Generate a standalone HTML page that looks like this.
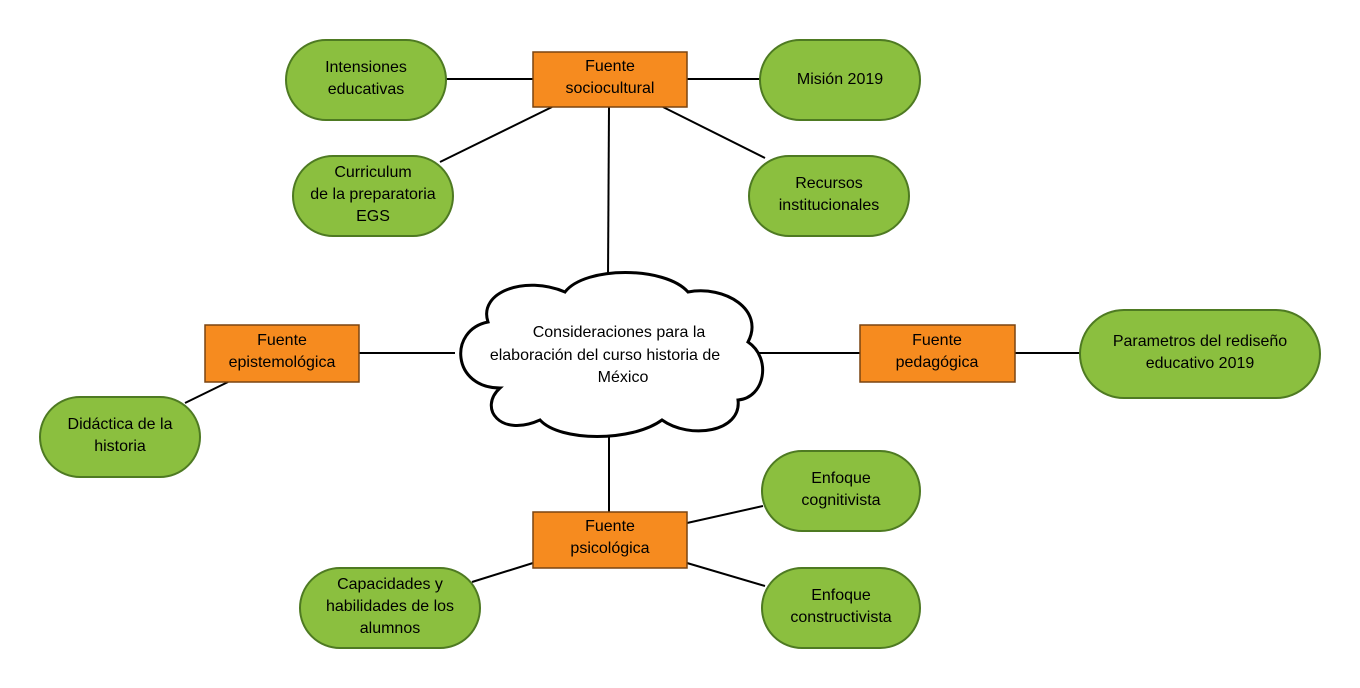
<!DOCTYPE html>
<html><head><meta charset="utf-8"><style>
html,body{margin:0;padding:0;background:#fff;}
svg{display:block;font-family:"Liberation Sans",sans-serif;}
text{font-size:16px;fill:#000;text-anchor:middle;}
</style></head><body>
<svg width="1360" height="688" viewBox="0 0 1360 688" xmlns="http://www.w3.org/2000/svg">
<g stroke="#000" stroke-width="2" fill="none">
<line x1="446" y1="79" x2="533" y2="79"/>
<line x1="687" y1="79" x2="760" y2="79"/>
<line x1="552" y1="107" x2="440" y2="162"/>
<line x1="663" y1="107" x2="765" y2="158"/>
<line x1="609" y1="107" x2="608" y2="278"/>
<line x1="359" y1="353" x2="455" y2="353"/>
<line x1="228" y1="382" x2="185" y2="403"/>
<line x1="755" y1="353" x2="860" y2="353"/>
<line x1="1015" y1="353" x2="1080" y2="353"/>
<line x1="609" y1="430" x2="609" y2="512"/>
<line x1="687" y1="523" x2="763" y2="506"/>
<line x1="687" y1="563" x2="765" y2="586"/>
<line x1="533" y1="563" x2="472" y2="582"/>
</g>
<path d="M488,322 C478,292 525,275 565,292 C585,266 665,266 688,292 C725,285 765,310 748,342 C772,358 765,398 738,400 C742,432 690,440 662,420 C632,442 560,442 540,420 C500,438 478,408 500,388 C452,388 448,330 488,322 Z" fill="#fff" stroke="#000" stroke-width="3"/>
<text x="619" y="337">Consideraciones para la</text>
<text x="605" y="360">elaboración del curso historia de</text>
<text x="623" y="382">México</text>
<g fill="#f68b1f" stroke="#7a4410" stroke-width="1.5">
<rect x="533" y="52" width="154" height="55"/>
<rect x="205" y="325" width="154" height="57"/>
<rect x="860" y="325" width="155" height="57"/>
<rect x="533" y="512" width="154" height="56"/>
</g>
<g fill="#8bbf3f" stroke="#4e7a22" stroke-width="2">
<rect x="286" y="40" width="160" height="80" rx="40"/>
<rect x="760" y="40" width="160" height="80" rx="40"/>
<rect x="293" y="156" width="160" height="80" rx="40"/>
<rect x="749" y="156" width="160" height="80" rx="40"/>
<rect x="1080" y="310" width="240" height="88" rx="44"/>
<rect x="40" y="397" width="160" height="80" rx="40"/>
<rect x="762" y="451" width="158" height="80" rx="40"/>
<rect x="300" y="568" width="180" height="80" rx="40"/>
<rect x="762" y="568" width="158" height="80" rx="40"/>
</g>
<text x="610" y="71">Fuente</text><text x="610" y="93">sociocultural</text>
<text x="282" y="345">Fuente</text><text x="282" y="367">epistemológica</text>
<text x="937" y="345">Fuente</text><text x="937" y="367">pedagógica</text>
<text x="610" y="531">Fuente</text><text x="610" y="553">psicológica</text>
<text x="366" y="72">Intensiones</text><text x="366" y="94">educativas</text>
<text x="840" y="84">Misión 2019</text>
<text x="373" y="177">Curriculum</text><text x="373" y="199">de la preparatoria</text><text x="373" y="221">EGS</text>
<text x="829" y="188">Recursos</text><text x="829" y="210">institucionales</text>
<text x="1200" y="346">Parametros del rediseño</text><text x="1200" y="368">educativo 2019</text>
<text x="120" y="429">Didáctica de la</text><text x="120" y="451">historia</text>
<text x="841" y="483">Enfoque</text><text x="841" y="505">cognitivista</text>
<text x="390" y="589">Capacidades y</text><text x="390" y="611">habilidades de los</text><text x="390" y="633">alumnos</text>
<text x="841" y="600">Enfoque</text><text x="841" y="622">constructivista</text>
</svg>
</body></html>
